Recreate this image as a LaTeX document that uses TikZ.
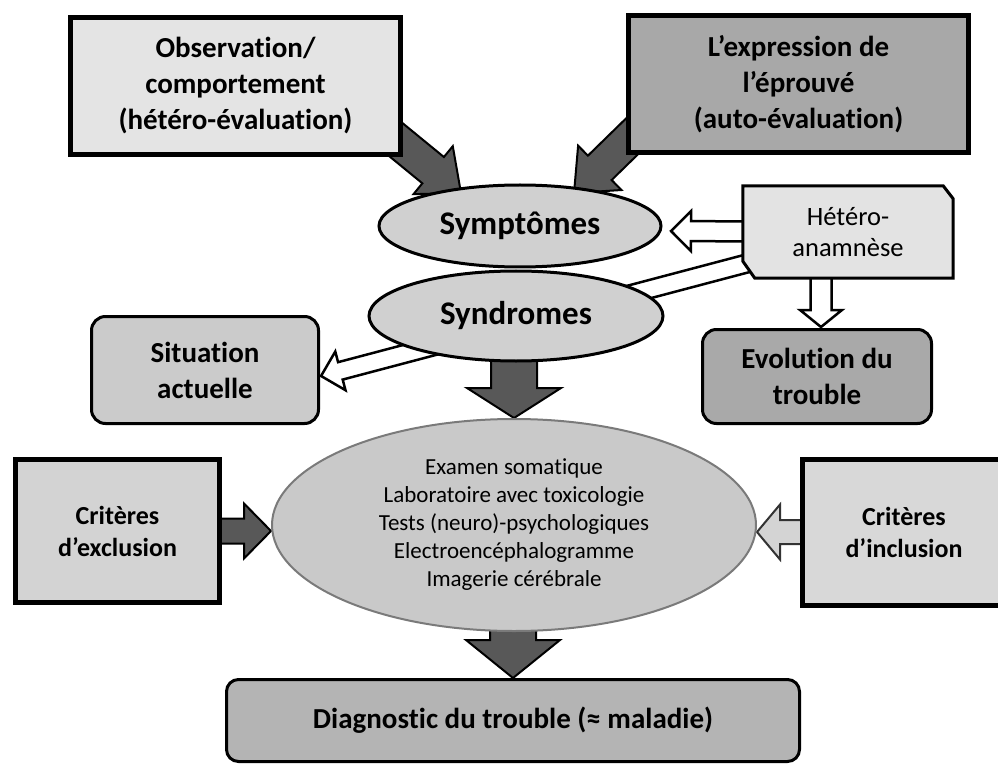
\documentclass[tikz,border=0pt]{standalone}
\usepackage{fontspec}
\setmainfont[Ligatures={NoCommon}]{Carlito}
\usetikzlibrary{shapes.geometric,backgrounds,calc}

\definecolor{cObs}{HTML}{E4E4E4}
\definecolor{cExp}{HTML}{A8A8A8}
\definecolor{cEll}{HTML}{D0D0D0}
\definecolor{cHet}{HTML}{E3E3E3}
\definecolor{cEvo}{HTML}{A9A9A9}
\definecolor{cSit}{HTML}{CBCBCB}
\definecolor{cCent}{HTML}{C9C9C9}
\definecolor{cEdge}{HTML}{7A7A7A}
\definecolor{cExcl}{HTML}{D3D3D3}
\definecolor{cIncl}{HTML}{D8D8D8}
\definecolor{cDiag}{HTML}{B4B4B4}
\definecolor{cDark}{HTML}{585858}
\definecolor{cIncA}{HTML}{D4D4D4}

% #1 style, #2 start, #3 tip, #4 half shaft, #5 half head, #6 head length
\newcommand\blockarrow[6]{%
  \path (#2) coordinate (bas) (#3) coordinate (bae);%
  \pgfmathanglebetweenpoints{\pgfpointanchor{bas}{center}}{\pgfpointanchor{bae}{center}}%
  \let\baang\pgfmathresult
  \pgfpointdiff{\pgfpointanchor{bas}{center}}{\pgfpointanchor{bae}{center}}%
  \pgfgetlastxy{\badx}{\bady}%
  \pgfmathveclen{\badx}{\bady}\let\balen\pgfmathresult
  \draw[#1,shift={(bas)},rotate=\baang] (0,#4) -- (\balen-#6,#4) -- (\balen-#6,#5)
     -- (\balen,0) -- (\balen-#6,-#5) -- (\balen-#6,-#4) -- (0,-#4) -- cycle;%
}

\begin{document}
\begin{tikzpicture}[x=1pt,y=-1pt,
  every node/.style={inner sep=0pt, align=center},
  bigtxt/.style={font=\bfseries\fontsize{29}{36}\selectfont},
  sqbox/.style={rectangle, draw=black, line width=5pt, bigtxt},
  rbox/.style={rectangle, rounded corners=14pt, draw=black, line width=3pt, bigtxt},
  ell/.style={ellipse, draw=black, line width=3pt, fill=cEll,
              font=\bfseries\fontsize{33}{40}\selectfont},
  crit/.style={sqbox, font=\bfseries\fontsize{26}{32}\selectfont},
  darkarrow/.style={fill=cDark, draw=black, line width=2pt, line join=miter},
  whitearrow/.style={fill=white, draw=black, line width=2.5pt, line join=miter},
  lightarrow/.style={fill=cIncA, draw=black!80, line width=2pt, line join=miter},
  hetshape/.style={fill=cHet, draw=black, line width=3pt, line join=miter}
]
\useasboundingbox (0,0) rectangle (998,767);

% nodes
\node[sqbox, fill=cObs, minimum width=330pt, minimum height=137pt] (obs) at (235.5,86)
  {Observation/\\comportement\\(hétéro-évaluation)};
\node[sqbox, fill=cExp, minimum width=340pt, minimum height=137pt] (expr) at (798.5,84)
  {L’expression de\\l’éprouvé\\(auto-évaluation)};
\node[ell, minimum width=282pt, minimum height=82pt] (sym) at (520,226) {Symptômes};
\node[ell, minimum width=294pt, minimum height=90pt] (synd) at (516,316) {Syndromes};
\node[rectangle, minimum width=210pt, minimum height=92pt,
      font=\fontsize{26.5}{31}\selectfont] (het) at (848,232) {Hétéro-\\anamnèse};
\node[rbox, fill=cEvo, minimum width=229pt, minimum height=94pt] (evo) at (817,376.5)
  {Evolution du\\trouble};
\node[rbox, fill=cSit, minimum width=227pt, minimum height=107pt] (sit) at (205,370)
  {Situation\\actuelle};
\node[ellipse, draw=cEdge, line width=2pt, fill=cCent, minimum width=484pt,
      minimum height=212pt, font=\fontsize{23}{28}\selectfont] (cent) at (514,525)
  {Examen somatique\\Laboratoire avec toxicologie\\Tests (neuro)-psychologiques\\Electroencéphalogramme\\Imagerie cérébrale};
\node[crit, fill=cExcl, minimum width=204pt, minimum height=143pt] (excl) at (117.5,531)
  {Critères\\d’exclusion};
\node[crit, fill=cIncl, minimum width=204pt, minimum height=146pt] (incl) at (904,532)
  {Critères\\d’inclusion};
\node[rbox, rounded corners=12pt, fill=cDiag, minimum width=573pt, minimum height=82pt]
  (diag) at (513,720.5) {Diagnostic du trouble (≈ maladie)};

% connectors (behind)
\begin{pgfonlayer}{background}
  \coordinate (a1s) at (367,116);  \coordinate (a1e) at (461,193);
  \coordinate (a2s) at (658,111);  \coordinate (a2e) at (574,193);
  \coordinate (w1e) at (671,231);
  \coordinate (w2s) at (821,240);  \coordinate (w2e) at (821,327);
  \coordinate (w3s) at (760,260);  \coordinate (w3e) at (321,376);
  \blockarrow{darkarrow}{a1s}{a1e}{17}{31}{36}
  \blockarrow{darkarrow}{a2s}{a2e}{17}{31}{36}
  \blockarrow{whitearrow}{w3s}{w3e}{9}{20}{20}
  \blockarrow{whitearrow}{het.center}{w1e}{10}{20}{20}
  \blockarrow{whitearrow}{w2s}{w2e}{10.5}{21}{17}
  \blockarrow{darkarrow}{cent.north |- synd.center}{cent.north}{23}{47}{30}
  \blockarrow{darkarrow}{diag.north |- cent.center}{diag.north}{23}{47}{38}
  \blockarrow{darkarrow}{excl.center}{cent.west |- excl.center}{12.5}{27.5}{27}
  \blockarrow{lightarrow}{incl.center}{cent.east |- incl.center}{12}{27.5}{23}
  \draw[hetshape] (het.north west) -- ($(het.north east)+(-10,0)$)
     -- ($(het.north east)+(0,13)$) -- (het.south east)
     -- ($(het.south west)+(12,0)$) -- ($(het.south west)+(0,-17)$) -- cycle;
\end{pgfonlayer}
\end{tikzpicture}
\end{document}
